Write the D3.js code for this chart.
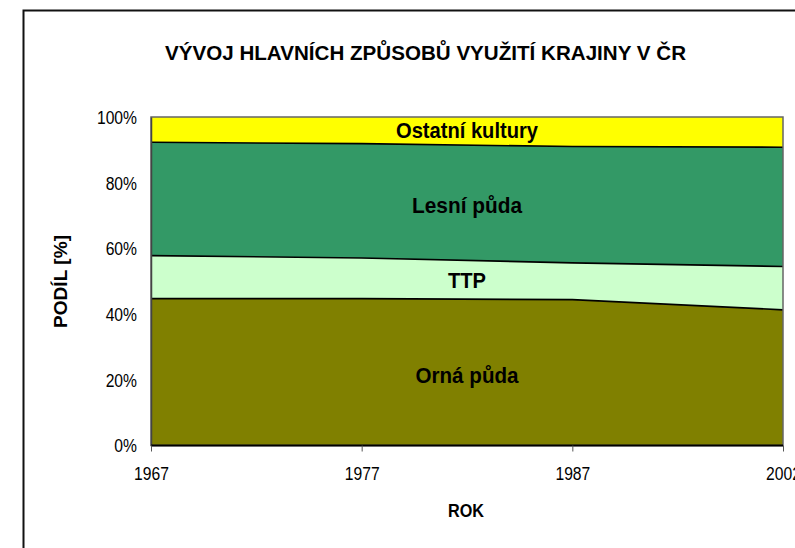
<!DOCTYPE html>
<html>
<head>
<meta charset="utf-8">
<script src="https://cdnjs.cloudflare.com/ajax/libs/d3/7.8.5/d3.min.js"></script>
<style>
  body { margin: 0; background: #fff; }
  text { font-family: "Liberation Sans", Arial, sans-serif; }
</style>
</head>
<body>
<div id="chart"></div>
<script>
// data (percent share of land use)
var years = ["1967", "1977", "1987", "2002"];
var orna = [44.7, 44.7, 44.4, 41.3];
var ttp = [13.1, 12.4, 11.2, 13.2];
var lesni = [34.5, 34.8, 35.4, 36.3];
var ostatni = [7.7, 8.1, 9.0, 9.2];
var seriesNames = ["Orná půda", "TTP", "Lesní půda", "Ostatní kultury"];
var seriesColors = ["#808000", "#CCFFCC", "#339966", "#FFFF00"];
var yTicks = [0, 20, 40, 60, 80, 100];

// the original uses Arial Narrow, which is not installed -> squeeze the glyphs
function condense(sel, k) {
  sel.each(function () {
    var len = this.getComputedTextLength()
    d3.select(this)
      .attr("textLength", len * k)
      .attr("lengthAdjust", "spacingAndGlyphs")
  })
}

window.onload = () => {
  var width = 795,
    height = 548

  var svg = d3.select("#chart")
    .append("svg")
    .attr("width", width)
    .attr("height", height)

  // outer frame, cut off on the right like the original
  svg.append("rect")
    .attr("x", 23.5)
    .attr("y", 10.5)
    .attr("width", 800)
    .attr("height", 600)
    .attr("fill", "none")
    .attr("stroke", "#111")
    .attr("stroke-width", 2)

  var left = 151, right = 783, top = 117, bottom = 445.5

  var x = d3.scalePoint()
    .domain(years)
    .range([left, right])

  var y = d3.scaleLinear()
    .domain([0, 100])
    .range([bottom, top])

  // build table for the stack
  var table = years.map((yr, i) => ({
    year: yr,
    "Orná půda": orna[i],
    "TTP": ttp[i],
    "Lesní půda": lesni[i],
    "Ostatní kultury": ostatni[i]
  }))

  var stacked = d3.stack().keys(seriesNames)(table)

  var area = d3.area()
    .x(d => x(d.data.year))
    .y0(d => y(d[0]))
    .y1(d => y(d[1]))

  var topLine = d3.line()
    .x(d => x(d.data.year))
    .y(d => y(d[1]))

  var plot = svg.append("g")

  plot.selectAll("path.area")
    .data(stacked)
    .enter()
    .append("path")
    .attr("class", "area")
    .attr("d", area)
    .attr("fill", (d, i) => seriesColors[i])

  // black boundary on top of each layer (not the last one, it is the frame)
  plot.selectAll("path.edge")
    .data(stacked.slice(0, 3))
    .enter()
    .append("path")
    .attr("class", "edge")
    .attr("d", topLine)
    .attr("fill", "none")
    .attr("stroke", "#000")
    .attr("stroke-width", 1.6)

  // plot area border
  svg.append("rect")
    .attr("x", left)
    .attr("y", top)
    .attr("width", right - left)
    .attr("height", bottom - top)
    .attr("fill", "none")
    .attr("stroke", "#666")
    .attr("stroke-width", 1.5)

  // y axis labels
  var yAxis = d3.axisLeft(y)
    .tickValues(yTicks)
    .tickSize(0)
    .tickPadding(14)
    .tickFormat(d => d + "%")

  var ga = svg.append("g")
    .attr("transform", "translate(" + left + ",0)")
    .call(yAxis)
  ga.select(".domain").attr("stroke", "#444").attr("stroke-width", 1.5)
  ga.selectAll("text").attr("font-size", 18).attr("fill", "#000")
    .attr("font-family", "'Liberation Sans', Arial, sans-serif")
    .attr("dy", "0.36em")
    .call(condense, 0.87)

  // x axis
  var xAxis = d3.axisBottom(x)
    .tickSize(6)
    .tickPadding(16)

  var gx = svg.append("g")
    .attr("transform", "translate(0," + bottom + ")")
    .call(xAxis)
  gx.select(".domain").attr("d", "M" + left + ",0H" + right).attr("stroke", "#000").attr("stroke-width", 2)
  gx.selectAll(".tick line").attr("stroke", "#555")
  gx.selectAll("text").attr("font-size", 18).attr("fill", "#000")
    .attr("font-family", "'Liberation Sans', Arial, sans-serif")
    .call(condense, 0.87)

  // series labels inside the areas
  var labelBase = [383, 288, 213, 138]
  var labelWidth = [103, 38, 110, 142]
  svg.selectAll("text.lab")
    .data(seriesNames)
    .enter()
    .append("text")
    .attr("class", "lab")
    .attr("x", (left + right) / 2)
    .attr("y", (d, i) => labelBase[i])
    .attr("text-anchor", "middle")
    .attr("font-size", 22.5)
    .attr("font-weight", "bold")
    .attr("textLength", (d, i) => labelWidth[i])
    .attr("lengthAdjust", "spacingAndGlyphs")
    .text(d => d)

  // title
  svg.append("text")
    .attr("x", 425.5)
    .attr("y", 60)
    .attr("text-anchor", "middle")
    .attr("font-size", 21)
    .attr("font-weight", "bold")
    .attr("textLength", 521)
    .attr("lengthAdjust", "spacingAndGlyphs")
    .text("VÝVOJ HLAVNÍCH ZPŮSOBŮ VYUŽITÍ KRAJINY V ČR")

  // axis titles
  svg.append("text")
    .attr("x", 466)
    .attr("y", 517)
    .attr("text-anchor", "middle")
    .attr("font-size", 19)
    .attr("font-weight", "bold")
    .attr("textLength", 36)
    .attr("lengthAdjust", "spacingAndGlyphs")
    .text("ROK")

  svg.append("text")
    .attr("transform", "translate(67,281.5) rotate(-90)")
    .attr("text-anchor", "middle")
    .attr("font-size", 19)
    .attr("font-weight", "bold")
    .attr("textLength", 93)
    .attr("lengthAdjust", "spacingAndGlyphs")
    .text("PODÍL  [%]")
}
</script>
</body>
</html>
